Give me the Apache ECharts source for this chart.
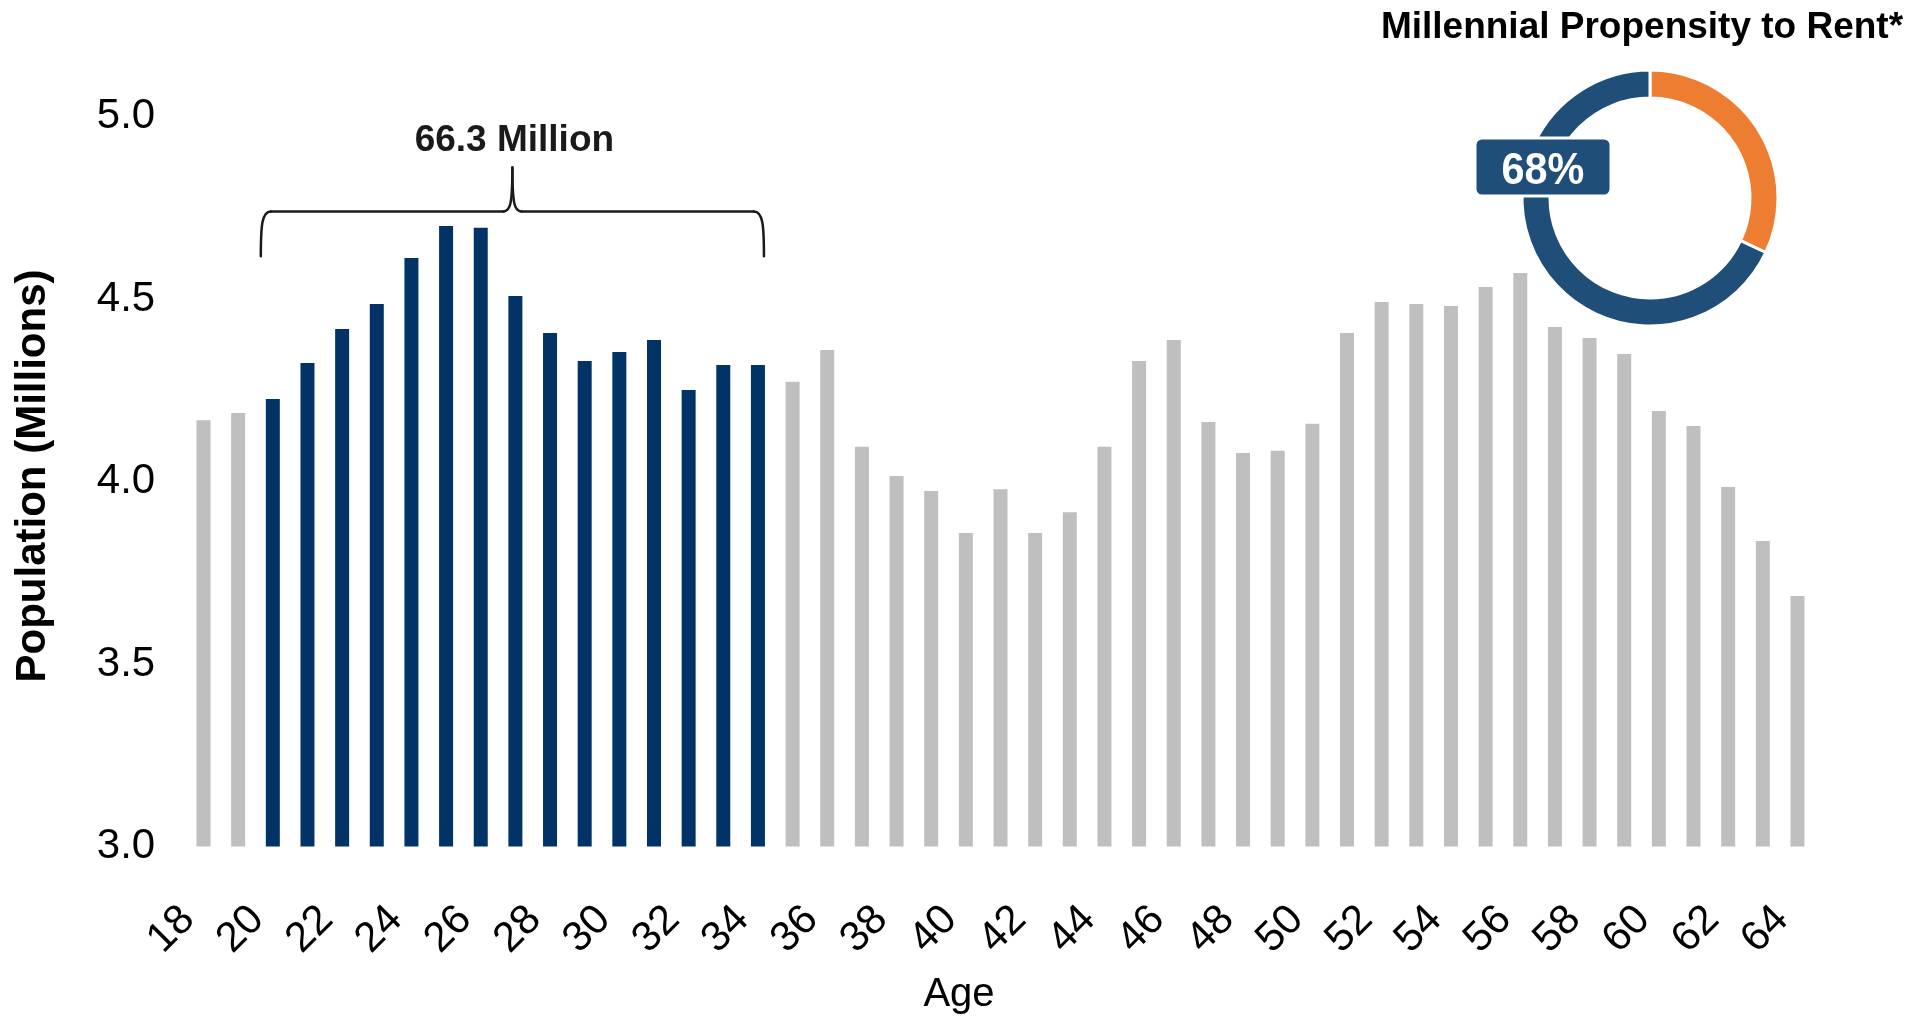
<!DOCTYPE html>
<html>
<head>
<meta charset="utf-8">
<script src="https://cdn.jsdelivr.net/npm/echarts@6/dist/echarts.min.js"></script>
<style>
html,body{margin:0;padding:0;background:#ffffff;}
#chart{width:1928px;height:1021px;}
</style>
</head>
<body>
<div id="chart"></div>
<script>
// ---- Data ----
const ages = ['18','19','20','21','22','23','24','25','26','27','28','29','30','31','32','33','34','35','36','37','38','39','40','41','42','43','44','45','46','47','48','49','50','51','52','53','54','55','56','57','58','59','60','61','62','63','64'];
const population = [4.168,4.188,4.226,4.325,4.418,4.486,4.612,4.700,4.695,4.508,4.407,4.330,4.355,4.388,4.251,4.319,4.319,4.273,4.360,4.095,4.015,3.974,3.859,3.979,3.859,3.916,4.095,4.330,4.388,4.163,4.078,4.084,4.158,4.407,4.492,4.486,4.481,4.533,4.571,4.423,4.393,4.349,4.193,4.152,3.985,3.837,3.686];
const millennialFirstAge = '20';
const millennialLastAge = '34';
const millennialTotalLabel = '66.3 Million';
const yTickMin = 3.0;
const yTickMax = 5.0;
const yTickStep = 0.5;
const rentNames = ['Own', 'Rent'];
const rentShares = [32, 68];
const donutTitle = 'Millennial Propensity to Rent*';
const xAxisTitle = 'Age';
const yAxisTitle = 'Population (Millions)';

// ---- Styles ----
const FONT = "'Liberation Sans', Arial, Helvetica, sans-serif";
const BAR_BLUE = '#013366';
const BAR_GRAY = '#BFBFBF';
const DONUT_BLUE = '#1F4E79';
const DONUT_ORANGE = '#ED7D31';
const BRACE = '#1a1a1a';

const firstIdx = ages.indexOf(millennialFirstAge);
const lastIdx = ages.indexOf(millennialLastAge);
const barData = population.map((v, i) => ({
  value: v,
  itemStyle: { color: (i >= firstIdx && i <= lastIdx) ? BAR_BLUE : BAR_GRAY }
}));

const chart = echarts.init(document.getElementById('chart'), null, { renderer: 'canvas' });

const option = {
  backgroundColor: '#ffffff',
  animation: false,
  grid: {
    left: 186.2, right: 113.2, top: 116.5, bottom: 174.5,
    containLabel: false, outerBoundsMode: 'none'
  },
  xAxis: {
    type: 'category',
    data: ages,
    boundaryGap: true,
    axisLine: { show: false },
    axisTick: { show: false },
    splitLine: { show: false },
    axisLabel: {
      interval: 1,
      rotate: 45,
      margin: 51,
      padding: [0, 22, 0, 0],
      fontFamily: FONT,
      fontSize: 42,
      color: '#000000'
    }
  },
  yAxis: {
    type: 'value',
    min: yTickMin,
    max: yTickMax,
    interval: yTickStep,
    axisLine: { show: false },
    axisTick: { show: false },
    splitLine: { show: false },
    axisLabel: {
      margin: 31,
      fontFamily: FONT,
      fontSize: 42,
      color: '#000000',
      formatter: v => v.toFixed(1)
    }
  },
  series: [
    {
      type: 'bar',
      data: barData,
      barWidth: 14,
      silent: true
    },
    {
      type: 'pie',
      center: [1650, 198],
      radius: [100, 128],
      startAngle: 90,
      clockwise: true,
      silent: true,
      z: 2,
      label: { show: false },
      labelLine: { show: false },
      itemStyle: { borderColor: '#ffffff', borderWidth: 3 },
      data: [
        { name: rentNames[0], value: rentShares[0], itemStyle: { color: DONUT_ORANGE } },
        { name: rentNames[1], value: rentShares[1], itemStyle: { color: DONUT_BLUE } }
      ]
    }
  ]
};
chart.setOption(option);

// ---- Annotations positioned from the chart's own scales ----
const xl = chart.convertToPixel({ xAxisIndex: 0 }, millennialFirstAge) - 12;
const xr = chart.convertToPixel({ xAxisIndex: 0 }, millennialLastAge) + 6;
const xm = (xl + xr) / 2;
const yLine = chart.convertToPixel({ yAxisIndex: 0 }, 4.74);
const yTip = chart.convertToPixel({ yAxisIndex: 0 }, 4.86);
const yEnd = chart.convertToPixel({ yAxisIndex: 0 }, 4.617);

const braceStyle = { fill: null, stroke: BRACE, lineWidth: 2.5, lineCap: 'round' };
function bez(x1, y1, cpx1, cpy1, cpx2, cpy2, x2, y2) {
  return { type: 'bezierCurve', silent: true, z: 10,
    shape: { x1: x1, y1: y1, cpx1: cpx1, cpy1: cpy1, cpx2: cpx2, cpy2: cpy2, x2: x2, y2: y2 },
    style: braceStyle };
}
function seg(x1, y1, x2, y2) {
  return { type: 'line', silent: true, z: 10,
    shape: { x1: x1, y1: y1, x2: x2, y2: y2 }, style: braceStyle };
}

const textStyle = (text, font, fill) => ({
  text: text, font: font, fill: fill,
  align: 'center', verticalAlign: 'middle'
});

chart.setOption({
  graphic: [
    bez(xl, yEnd, xl, yLine + 14, xl + 1, yLine, xl + 10, yLine),
    seg(xl + 10, yLine, xm - 9, yLine),
    bez(xm - 9, yLine, xm - 2, yLine, xm, yLine - 8, xm, yTip),
    bez(xm, yTip, xm, yLine - 8, xm + 2, yLine, xm + 9, yLine),
    seg(xm + 9, yLine, xr - 10, yLine),
    bez(xr - 10, yLine, xr - 1, yLine, xr, yLine + 14, xr, yEnd),
    {
      type: 'text', silent: true, z: 10,
      x: xm + 2, y: 141,
      style: textStyle(millennialTotalLabel, 'bold 37px ' + FONT, '#1a1a1a')
    },
    {
      type: 'text', silent: true, z: 10,
      x: 1642, y: 28,
      style: textStyle(donutTitle, 'bold 37px ' + FONT, '#000000')
    },
    {
      type: 'group', silent: true,
      x: 1543, y: 167,
      z: 100,
      children: [
        {
          type: 'rect', z: 100,
          shape: { x: -68, y: -29, width: 136, height: 58, r: 7 },
          style: { fill: DONUT_BLUE, stroke: '#ffffff', lineWidth: 3 }
        },
        {
          type: 'text', z: 101,
          x: 0, y: 5, scaleX: 0.92,
          style: textStyle(rentShares[1] + '%', 'bold 45px ' + FONT, '#ffffff')
        }
      ]
    },
    {
      type: 'text', silent: true,
      x: 959, y: 995,
      style: textStyle(xAxisTitle, '40px ' + FONT, '#000000')
    },
    {
      type: 'text', silent: true,
      x: 33, y: 476, rotation: Math.PI / 2,
      style: textStyle(yAxisTitle, 'bold 42px ' + FONT, '#000000')
    }
  ]
});
</script>
</body>
</html>
